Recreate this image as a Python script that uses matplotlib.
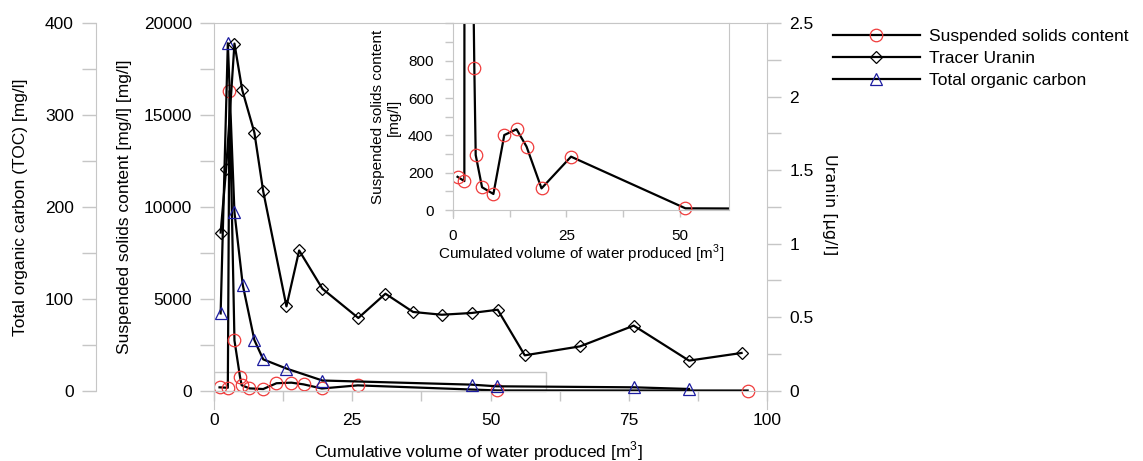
import matplotlib
matplotlib.use('Agg')
import matplotlib.pyplot as plt
from matplotlib.lines import Line2D
from matplotlib.patches import Rectangle
from matplotlib.ticker import MultipleLocator, FuncFormatter

plt.rcParams['font.family'] = ['Liberation Sans', 'DejaVu Sans']
plt.rcParams['mathtext.fontset'] = 'custom'
plt.rcParams['mathtext.rm'] = 'Liberation Sans'

# Suspended solids content [mg/l]
ss_x = [1.0, 2.5, 2.8, 3.7, 4.7, 5.0, 6.4, 8.9, 11.3, 14.0, 16.2, 19.5, 26.0, 51.2, 96.5]
ss_y = [178, 155, 16300, 2730, 760, 295, 122, 86, 402, 433, 340, 116, 286, 9, 5]

# Tracer Uranin [ug/l]
u_x = [1.2, 2.2, 3.7, 5.1, 7.3, 8.9, 13.1, 15.4, 19.6, 26.1, 31.0, 36.0, 41.2,
       46.6, 51.3, 56.2, 66.2, 75.9, 85.9, 95.4]
u_y = [1.075, 1.51, 2.36, 2.045, 1.755, 1.355, 0.573, 0.953, 0.693, 0.494, 0.659,
       0.535, 0.516, 0.528, 0.55, 0.24, 0.301, 0.442, 0.204, 0.256]

# Total organic carbon [mg/l]
toc_x = [1.2, 2.5, 3.7, 5.2, 7.3, 8.9, 13.1, 19.6, 46.6, 51.1, 75.9, 85.9]
toc_y = [84, 378, 194, 115, 55, 34, 24, 11, 6.5, 4.7, 3.6, 1.8]

labels = ['Suspended solids content', 'Tracer Uranin', 'Total organic carbon']

GRAY = '#c6c6c6'
RED = '#f03c3c'
BLUE = '#1c1ca0'
FS = 12.5
W, H = 1143, 461


def fx(px):
    return px / W


def fy(py):
    return 1 - py / H


def every(step, fmt='%g', top=None):
    # label only every `step`, leave the ticks in between blank
    def f(v, p):
        if abs(v / step - round(v / step)) > 1e-6:
            return ''
        if top is not None and v > top:
            return ''
        return fmt % v
    return FuncFormatter(f)


fig = plt.figure(figsize=(W / 100, H / 100), dpi=100)
ax = fig.add_axes([fx(214), fy(409), fx(767) - fx(214), fy(23) - fy(409)])
ax_toc = ax.twinx()
ax_u = ax.twinx()

line_kw = dict(color='black', lw=1.6, mfc='none', mew=0.9)
ax.plot(ss_x, ss_y, marker='o', ms=9, mec=RED, **line_kw)
ax_toc.plot(toc_x, toc_y, marker='^', ms=9, mec=BLUE, **line_kw)
ax_u.plot(u_x, u_y, marker='D', ms=6.5, mec='black', **line_kw)

# zoom window shown in the inset
ax.add_patch(Rectangle((0, 0), 60, 1000, fill=False, ec=GRAY, lw=1))

ax.set_xlim(0, 100)
ax.set_ylim(-1000, 20000)
ax_toc.set_ylim(-20, 400)
ax_u.set_ylim(-0.125, 2.5)

for a in (ax, ax_toc, ax_u):
    a.patch.set_visible(False)
    for s in a.spines.values():
        s.set_color(GRAY)
        s.set_visible(False)

ax.spines['left'].set_visible(True)
ax.spines['top'].set_visible(True)
ax.spines['bottom'].set_visible(True)
ax.spines['bottom'].set_position(('data', 0))

ax.xaxis.set_major_locator(MultipleLocator(12.5))
ax.xaxis.set_major_formatter(every(25))
ax.yaxis.set_major_locator(MultipleLocator(2500))
ax.yaxis.set_major_formatter(every(5000, '%d'))
ax.tick_params(axis='y', length=10, width=1, color=GRAY, labelsize=FS, pad=6)
ax.tick_params(axis='x', length=7, width=1, color=GRAY, labelsize=FS, pad=9)

ax_toc.yaxis.set_ticks_position('left')
ax_toc.spines['left'].set_visible(True)
ax_toc.spines['left'].set_position(('axes', -118 / 553))
ax_toc.spines['left'].set_bounds(0, 400)
ax_toc.yaxis.set_major_locator(MultipleLocator(50))
ax_toc.yaxis.set_major_formatter(every(100, '%d'))
ax_toc.tick_params(axis='y', length=10, width=1, color=GRAY, labelsize=FS, pad=6)

ax_u.spines['right'].set_visible(True)
ax_u.yaxis.set_major_locator(MultipleLocator(0.25))
ax_u.yaxis.set_major_formatter(every(0.5))
ax_u.tick_params(axis='y', length=10, width=1, color=GRAY, labelsize=FS, pad=6)

fig.text(fx(21), fy(207), 'Total organic carbon (TOC) [mg/l]', rotation=90,
         ha='center', va='center', fontsize=FS)
fig.text(fx(124), fy(207), 'Suspended solids content [mg/l] [mg/l]', rotation=90,
         ha='center', va='center', fontsize=FS)
fig.text(fx(829), fy(205), 'Uranin [µg/l]', rotation=270, ha='center', va='center',
         fontsize=11.5, family='DejaVu Sans')
fig.text(fx(478), fy(451), r'Cumulative volume of water produced [m$^{\mathrm{3}}$]',
         ha='center', va='center', fontsize=FS)

# inset with the low-concentration part of suspended solids
axi = fig.add_axes([fx(453), fy(218.4), fx(729) - fx(453), fy(23.5) - fy(218.4)])
axi.set_zorder(10)
axi.plot(ss_x, ss_y, marker='o', ms=9, mec=RED, **line_kw)
axi.set_xlim(0, 60.8)
axi.set_ylim(-45, 1000)
for s in axi.spines.values():
    s.set_color(GRAY)
axi.spines['bottom'].set_position(('data', 0))
axi.spines['right'].set_bounds(0, 1000)
axi.xaxis.set_major_locator(MultipleLocator(12.5))
axi.xaxis.set_major_formatter(every(25))
axi.yaxis.set_major_locator(MultipleLocator(100))
axi.yaxis.set_major_formatter(every(200, '%d', top=800))
axi.tick_params(axis='y', length=6, width=1, color=GRAY, labelsize=11, pad=8)
axi.tick_params(axis='x', length=5, width=1, color=GRAY, labelsize=11, pad=8.5)
fig.text(fx(386), fy(117), 'Suspended solids content\n[mg/l]', rotation=90,
         ha='center', va='center', fontsize=11, multialignment='center')
fig.text(fx(581), fy(254), r'Cumulated volume of water produced [m$^{\mathrm{3}}$]',
         ha='center', va='center', fontsize=11)

handles = [
    Line2D([], [], marker='o', ms=9, mec=RED, **line_kw),
    Line2D([], [], marker='D', ms=6.5, mec='black', **line_kw),
    Line2D([], [], marker='^', ms=9, mec=BLUE, **line_kw),
]
fig.legend(handles, labels, loc='upper left', bbox_to_anchor=(fx(833), fy(29)),
           frameon=False, fontsize=FS, handlelength=5.0, handletextpad=0.55,
           borderpad=0, borderaxespad=0, labelspacing=0.4)

fig.savefig('out.png', dpi=100)
